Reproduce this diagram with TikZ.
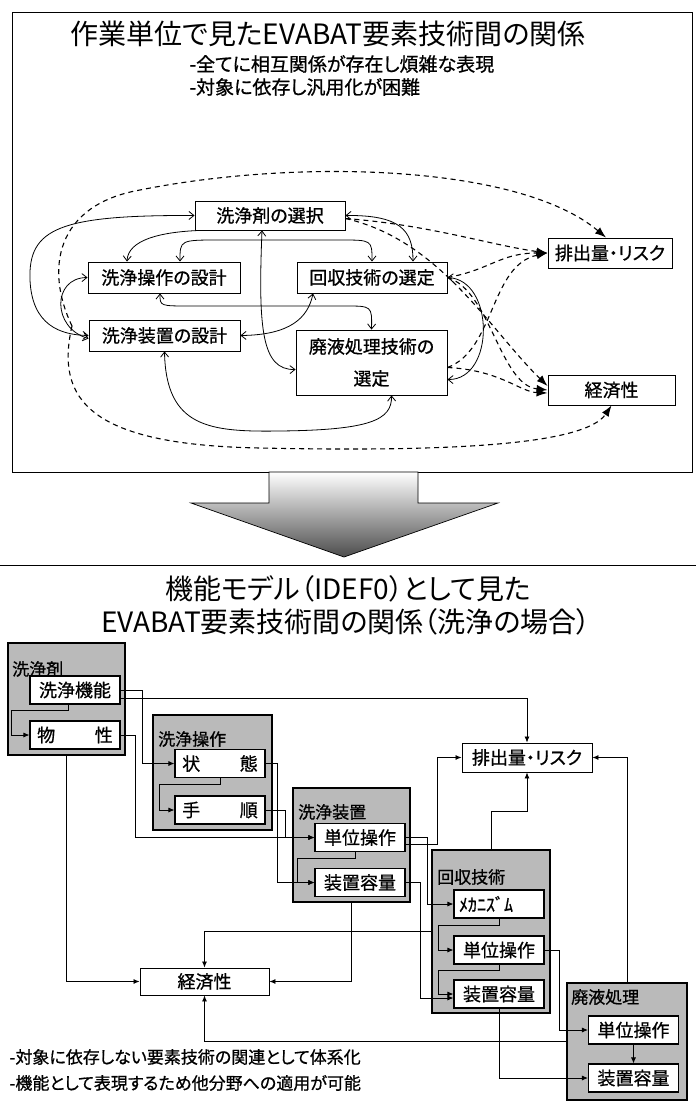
\documentclass[tikz,border=0pt]{standalone}
\usepackage{fontspec}
\newfontfamily\jp[RawFeature=+palt]{Noto Sans CJK JP}
\newfontfamily\jpb[RawFeature=+palt, FakeBold=0.8]{Noto Sans CJK JP}
\usetikzlibrary{arrows.meta}

\tikzset{
  work/.style={draw, line width=0.9pt, fill=white, inner sep=0pt,
    font=\jpb\fontsize{18}{20}\selectfont},
  func/.style={draw, line width=1.1pt, fill=white, inner sep=0pt,
    minimum width=\fw pt, minimum height=\fh pt,
    font=\jpb\fontsize{18}{20}\selectfont},
  grp/.style={draw, line width=1.3pt, fill=black!27},
  grplabel/.style={inner sep=1pt, font=\jpb\fontsize{17}{19}\selectfont},
  rel/.style={line width=0.8pt,
    arrows={Straight Barb[length=5pt,width=8pt]-Straight Barb[length=5pt,width=8pt]}},
  rel1/.style={rel, arrows={-Straight Barb[length=5pt,width=8pt]}},
  eff/.style={line width=1.1pt, dash pattern=on 5pt off 4pt,
    arrows={-Latex[length=11pt,width=8pt]}},
  idefln/.style={line width=0.8pt, arrows={-Latex[length=6pt,width=5pt]}},
}

\begin{document}
\begin{tikzpicture}[x=1pt,y=-1pt]

% page size (pixels of the scan):
\pgfmathsetmacro\pwidth{696};
\pgfmathsetmacro\pheight{1115};
% function box size:
\pgfmathsetmacro\fw{90};
\pgfmathsetmacro\fh{28};

\useasboundingbox (0,0) rectangle (\pwidth,\pheight);

%% ---------------- upper panel ----------------
\draw[line width=0.8pt] (12,12) rectangle (692,472);

\node[font=\jp\fontsize{28}{30}\selectfont] (ttl) at (328,34) {作業単位で見たEVABAT要素技術間の関係};
\node[anchor=west, font=\jpb\fontsize{19}{21}\selectfont] (pt1) at (186,64) {-全てに相互関係が存在し煩雑な表現};
\node[anchor=west, font=\jpb\fontsize{19}{21}\selectfont] (pt2) at (186,87) {-対象に依存し汎用化が困難};

% work boxes:
\node[work, minimum width=150pt, minimum height=29pt] (sel) at (270,215.5) {洗浄剤の選択};
\node[work, minimum width=152pt, minimum height=31pt] (ope) at (164,277.5) {洗浄操作の設計};
\node[work, minimum width=150pt, minimum height=31pt] (rec) at (372,277.5) {回収技術の選定};
\node[work, minimum width=151pt, minimum height=31pt] (equ) at (164.5,335.5) {洗浄装置の設計};
\node[work, minimum width=151pt, minimum height=65pt, align=center] (was) at (371.5,362.5) {廃液処理技術の\\[12pt]選定};
\node[work, minimum width=124pt, minimum height=30pt] (emi) at (610,253) {排出量・リスク};
\node[work, minimum width=127pt, minimum height=30pt] (eco) at (611.5,390) {経済性};

% mutual relations:
\draw[rel] (sel.west) .. controls (60,215) and (28,228) .. (30,280) .. controls (32,325) and (60,335) .. (equ.west);
\draw[rel] (ope.west) .. controls (52,278) and (52,328) .. ([yshift=-3pt]equ.west);
\draw[rel1] ([xshift=5pt]sel.south west) .. controls (160,232) and (128,240) .. ([xshift=-37pt]ope.north);
\draw[rel] ([xshift=16pt]ope.north) .. controls (180,240) .. (220,240) -- (340,240) .. controls (372,240) .. (rec.north);
\draw[rel] (sel.east) .. controls (400,215) and (413,230) .. ([xshift=41pt]rec.north);
\draw[rel] ([xshift=-8pt]sel.south) .. controls (258,330) and (262,370) .. ([yshift=-7pt]was.west);
\draw[rel] ([xshift=-4pt]ope.south) .. controls (160,306) .. (190,306) -- (345,306) .. controls (372,306) .. (was.north);
\draw[rel] (equ.east) .. controls (290,335) and (308,318) .. ([xshift=-59pt]rec.south);
\draw[rel] (equ.south) .. controls (166,428) and (210,432) .. (280,431) .. controls (370,430) and (392,420) .. ([xshift=20pt]was.south);
\draw[rel] (rec.east) .. controls (495,280) and (495,380) .. ([yshift=-17pt]was.east);

% effects:
\coordinate (lft) at (72,326);
\draw[eff] (lft) .. controls (45,270) and (55,205) .. (140,190) .. controls (300,158) and (520,165) .. ([xshift=-4pt]emi.north);
\draw[eff] (lft) .. controls (55,400) and (90,445) .. (260,448) .. controls (450,452) and (585,445) .. (eco.south);
\draw[eff] ([yshift=-3pt]sel.east) .. controls (430,225) and (490,245) .. (emi.west);
\draw[eff] ([yshift=-3pt]sel.east) .. controls (440,240) and (490,330) .. ([yshift=4pt]eco.west);
\draw[eff] (rec.east) .. controls (490,270) and (500,253) .. (emi.west);
\draw[eff] (rec.east) .. controls (490,290) and (500,385) .. (eco.west);
\draw[eff] ([yshift=-5pt]was.east) .. controls (495,350) and (490,265) .. (emi.west);
\draw[eff] ([yshift=-5pt]was.east) .. controls (500,370) and (520,392) .. ([yshift=-3pt]eco.west);

%% ---------------- big arrow ----------------
\shade[top color=white, bottom color=black!70, draw=black, line width=0.7pt]
  (269,472) -- (418,472) -- (418,503) -- (498,503) -- (344,557) -- (191,503) -- (269,503) -- cycle;
\draw[line width=0.8pt] (0,565) -- (\pwidth,565);

%% ---------------- lower panel ----------------
\node[font=\jp\fontsize{28}{30}\selectfont] (ttl2) at (348,589) {機能モデル（IDEF0）として見た};
\node[font=\jp\fontsize{28}{30}\selectfont] (ttl3) at (346,622) {EVABAT要素技術間の関係（洗浄の場合）};

\newcommand{\idefgrp}[6]{% name, centre, width, height, label position, label
  \node[grp, minimum width=#3pt, minimum height=#4pt] (#1) at #2 {};
  \node[grplabel, anchor=west] (#1lab) at #5 {#6};
}
\idefgrp{gA}{(66.5,699)}{117}{112}{(11,669)}{洗浄剤}
\idefgrp{gB}{(212.5,772.5)}{119}{115}{(157,739)}{洗浄操作}
\idefgrp{gC}{(351.5,845)}{117}{114}{(297,812)}{洗浄装置}
\idefgrp{gD}{(491,931.5)}{118}{163}{(436,877)}{回収技術}
\idefgrp{gE}{(627,1041.5)}{120}{117}{(570,997)}{廃液処理}

% functions:
\node[func] (fA1) at (75,690) {洗浄機能};
\node[func] (fA2) at (75,735) {物\hspace{2.2em}性};
\node[func] (fB1) at (220,763.5) {状\hspace{2.2em}態};
\node[func] (fB2) at (220,810) {手\hspace{2.2em}順};
\node[func] (fC1) at (360,837.5) {単位操作};
\node[func] (fC2) at (360,882.5) {装置容量};
\node[func, text width=80pt, inner xsep=5pt, align=left] (fD1) at (499,904) {ﾒｶﾆｽﾞﾑ};
\node[func] (fD2) at (499,950) {単位操作};
\node[func] (fD3) at (499,994) {装置容量};
\node[func] (fE1) at (633.5,1030) {単位操作};
\node[func] (fE2) at (633.5,1078) {装置容量};

\node[work, minimum width=130pt, minimum height=29pt] (emi2) at (527,757.5) {排出量・リスク};
\node[work, minimum width=129pt, minimum height=27pt] (eco2) at (204.5,981.5) {経済性};

% links:
\draw[idefln] ([xshift=-7pt]fA1.south) -- ++(0,6) -| ([xshift=-18pt]fA2.west) -- (fA2.west);
\draw[idefln] (fA1.east) -- ++(22,0) |- (fB1.west);
\draw[idefln] ([yshift=-8pt]fA1.east) -| (emi2.north);
\draw[idefln] (fA2.east) -- ++(15,0) |- (fC1.west);
\draw[idefln] (gA.south) |- (eco2.west);
\draw[idefln] (fB1.south) -- ++(0,6) -| ([xshift=-15pt]fB2.west) -- (fB2.west);
\draw[idefln] (fB1.east) -- ++(12,0) |- (fC2.west);
\draw[idefln] (fB2.east) -- ++(20,0) |- (fC1.west);
\draw[idefln] ([xshift=-5pt]fC1.south) -- ++(0,6) -| ([xshift=-17pt]fC2.west) -- (fC2.west);
\draw[idefln] (fC1.east) -- ++(22,0) |- (fD1.west);
\draw[idefln] ([yshift=-7pt]fC1.east) -- ++(32,0) |- (emi2.west);
\draw[idefln] (fC2.east) -- ++(15,0) |- ([yshift=-4pt]fD3.west);
\draw[idefln] (gC.south) |- (eco2.east);
\draw[idefln] (gD.west) -| (eco2.north);
\draw[idefln] (gD.north) -- ++(0,-38) -| (emi2.south);
\draw[idefln] (fD1.south) -- ++(0,7) -| ([xshift=-15pt]fD2.west) -- (fD2.west);
\draw[idefln] (fD2.south) -- ++(0,6) -| ([xshift=-15pt]fD3.west) -- (fD3.west);
\draw[idefln] (fD2.east) -- ++(15,0) |- (fE1.west);
\draw[idefln] (fD3.south) |- (fE2.west);
\draw[idefln] (fE1.south) -- (fE2.north);
\draw[idefln] (gE.west) -| (eco2.south);
\draw[idefln] (gE.north) |- (emi2.east);

\node[anchor=west, font=\jpb\fontsize{17}{19}\selectfont] (pt3) at (6,1057) {-対象に依存しない要素技術の関連として体系化};
\node[anchor=west, font=\jpb\fontsize{17}{19}\selectfont] (pt4) at (6,1083) {-機能として表現するため他分野への適用が可能};

\end{tikzpicture}
\end{document}
